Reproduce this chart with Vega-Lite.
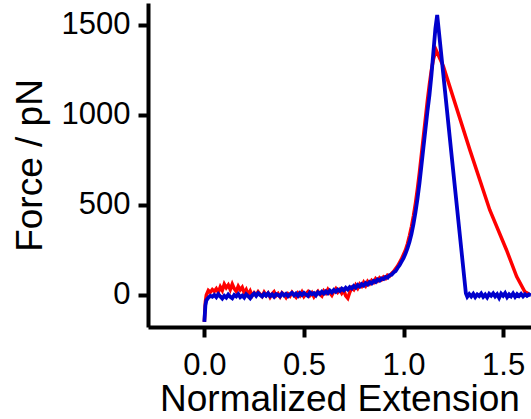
{
  "$schema": "https://vega.github.io/schema/vega-lite/v6.json",
  "autosize": "none",
  "padding": {"left": 148, "top": 3, "right": 0, "bottom": 92},
  "width": 383,
  "height": 324,
  "background": "white",
  "config": {
    "view": {"stroke": null},
    "font": "Liberation Sans",
    "axis": {
      "grid": false,
      "domainColor": "black",
      "domainWidth": 4,
      "tickColor": "black",
      "tickWidth": 4,
      "tickSize": 10,
      "labelFont": "Liberation Sans",
      "labelFontSize": 31,
      "labelColor": "black",
      "titleFont": "Liberation Sans",
      "titleFontSize": 37,
      "titleFontWeight": "normal",
      "titleColor": "black"
    }
  },
  "datasets": {
    "red": [
      {"x":0,"y":-150},{"x":0.005,"y":-40},{"x":0.01,"y":0},{"x":0.02,"y":25},{"x":0.03,"y":15},{"x":0.04,"y":30},{"x":0.05,"y":20},{"x":0.06,"y":35},{"x":0.07,"y":15},{"x":0.08,"y":45},{"x":0.09,"y":25},{"x":0.1,"y":60},{"x":0.11,"y":40},{"x":0.12,"y":55},{"x":0.13,"y":30},{"x":0.14,"y":60},{"x":0.15,"y":35},{"x":0.16,"y":20},{"x":0.17,"y":48},{"x":0.18,"y":28},{"x":0.19,"y":42},{"x":0.2,"y":12},{"x":0.21,"y":30},{"x":0.22,"y":2},{"x":0.23,"y":22},{"x":0.24,"y":-5},{"x":0.25,"y":12},{"x":0.26,"y":0},{"x":0.27,"y":18},{"x":0.28,"y":4},{"x":0.29,"y":-8},{"x":0.3,"y":15},{"x":0.31,"y":-2},{"x":0.32,"y":10},{"x":0.33,"y":-12},{"x":0.34,"y":6},{"x":0.35,"y":18},{"x":0.36,"y":-4},{"x":0.37,"y":8},{"x":0.38,"y":-10},{"x":0.39,"y":12},{"x":0.4,"y":2},{"x":0.41,"y":-14},{"x":0.42,"y":6},{"x":0.43,"y":-6},{"x":0.44,"y":14},{"x":0.45,"y":0},{"x":0.46,"y":-12},{"x":0.47,"y":10},{"x":0.48,"y":-4},{"x":0.49,"y":16},{"x":0.5,"y":-8},{"x":0.51,"y":6},{"x":0.52,"y":18},{"x":0.53,"y":-2},{"x":0.54,"y":12},{"x":0.55,"y":-10},{"x":0.56,"y":8},{"x":0.57,"y":20},{"x":0.58,"y":4},{"x":0.59,"y":-6},{"x":0.6,"y":22},{"x":0.61,"y":10},{"x":0.62,"y":30},{"x":0.63,"y":12},{"x":0.64,"y":-2},{"x":0.65,"y":20},{"x":0.66,"y":35},{"x":0.67,"y":16},{"x":0.68,"y":30},{"x":0.69,"y":10},{"x":0.7,"y":25},{"x":0.71,"y":-5},{"x":0.72,"y":-18},{"x":0.73,"y":15},{"x":0.74,"y":40},{"x":0.75,"y":30},{"x":0.76,"y":55},{"x":0.77,"y":38},{"x":0.78,"y":60},{"x":0.79,"y":48},{"x":0.8,"y":70},{"x":0.81,"y":52},{"x":0.82,"y":75},{"x":0.83,"y":62},{"x":0.84,"y":80},{"x":0.85,"y":70},{"x":0.86,"y":90},{"x":0.87,"y":78},{"x":0.88,"y":95},{"x":0.89,"y":85},{"x":0.9,"y":100},{"x":0.91,"y":92},{"x":0.92,"y":110},{"x":0.93,"y":105},{"x":0.94,"y":120},{"x":0.95,"y":130},{"x":0.96,"y":145},{"x":0.97,"y":160},{"x":0.98,"y":180},{"x":0.99,"y":200},{"x":1.0,"y":225},{"x":1.01,"y":250},{"x":1.02,"y":285},{"x":1.03,"y":330},{"x":1.04,"y":380},{"x":1.05,"y":440},{"x":1.06,"y":510},{"x":1.07,"y":590},{"x":1.08,"y":680},{"x":1.09,"y":780},{"x":1.1,"y":880},{"x":1.11,"y":980},{"x":1.12,"y":1080},{"x":1.13,"y":1170},{"x":1.14,"y":1250},{"x":1.15,"y":1310},{"x":1.163,"y":1361},{"x":1.2,"y":1270},{"x":1.333,"y":806},{"x":1.433,"y":472},{"x":1.517,"y":250},{"x":1.568,"y":102},{"x":1.609,"y":18},{"x":1.63,"y":5}
    ],
    "blue": [
      {"x":0,"y":-150},{"x":0.005,"y":-60},{"x":0.01,"y":-30},{"x":0.02,"y":-15},{"x":0.03,"y":-5},{"x":0.04,"y":-10},{"x":0.05,"y":0},{"x":0.06,"y":-12},{"x":0.07,"y":5},{"x":0.08,"y":-8},{"x":0.09,"y":-20},{"x":0.1,"y":-5},{"x":0.11,"y":-15},{"x":0.12,"y":2},{"x":0.13,"y":-10},{"x":0.14,"y":-18},{"x":0.15,"y":0},{"x":0.16,"y":-8},{"x":0.17,"y":5},{"x":0.18,"y":-12},{"x":0.19,"y":-3},{"x":0.2,"y":-15},{"x":0.21,"y":4},{"x":0.22,"y":-6},{"x":0.23,"y":-18},{"x":0.24,"y":-2},{"x":0.25,"y":8},{"x":0.26,"y":-5},{"x":0.27,"y":10},{"x":0.28,"y":0},{"x":0.29,"y":-8},{"x":0.3,"y":6},{"x":0.31,"y":-4},{"x":0.32,"y":9},{"x":0.33,"y":-6},{"x":0.34,"y":3},{"x":0.35,"y":-10},{"x":0.36,"y":5},{"x":0.37,"y":0},{"x":0.38,"y":-8},{"x":0.39,"y":8},{"x":0.4,"y":-3},{"x":0.41,"y":6},{"x":0.42,"y":-7},{"x":0.43,"y":4},{"x":0.44,"y":12},{"x":0.45,"y":-2},{"x":0.46,"y":8},{"x":0.47,"y":-5},{"x":0.48,"y":10},{"x":0.49,"y":0},{"x":0.5,"y":12},{"x":0.51,"y":2},{"x":0.52,"y":-6},{"x":0.53,"y":14},{"x":0.54,"y":4},{"x":0.55,"y":10},{"x":0.56,"y":-2},{"x":0.57,"y":15},{"x":0.58,"y":6},{"x":0.59,"y":18},{"x":0.6,"y":8},{"x":0.61,"y":20},{"x":0.62,"y":10},{"x":0.63,"y":24},{"x":0.64,"y":14},{"x":0.65,"y":28},{"x":0.66,"y":18},{"x":0.67,"y":30},{"x":0.68,"y":22},{"x":0.69,"y":35},{"x":0.7,"y":26},{"x":0.71,"y":40},{"x":0.72,"y":30},{"x":0.73,"y":44},{"x":0.74,"y":36},{"x":0.75,"y":50},{"x":0.76,"y":40},{"x":0.77,"y":55},{"x":0.78,"y":46},{"x":0.79,"y":60},{"x":0.8,"y":52},{"x":0.81,"y":66},{"x":0.82,"y":58},{"x":0.83,"y":72},{"x":0.84,"y":64},{"x":0.85,"y":78},{"x":0.86,"y":72},{"x":0.87,"y":86},{"x":0.88,"y":80},{"x":0.89,"y":92},{"x":0.9,"y":88},{"x":0.91,"y":100},{"x":0.92,"y":96},{"x":0.93,"y":110},{"x":0.94,"y":112},{"x":0.95,"y":125},{"x":0.96,"y":132},{"x":0.97,"y":150},{"x":0.98,"y":165},{"x":0.99,"y":185},{"x":1.0,"y":205},{"x":1.01,"y":230},{"x":1.02,"y":260},{"x":1.03,"y":295},{"x":1.04,"y":340},{"x":1.05,"y":395},{"x":1.06,"y":460},{"x":1.07,"y":535},{"x":1.08,"y":620},{"x":1.09,"y":720},{"x":1.1,"y":820},{"x":1.11,"y":920},{"x":1.12,"y":1020},{"x":1.13,"y":1110},{"x":1.14,"y":1220},{"x":1.15,"y":1350},{"x":1.16,"y":1480},{"x":1.169,"y":1556},{"x":1.24,"y":790},{"x":1.313,"y":9},{"x":1.32,"y":-10},{"x":1.33,"y":5},{"x":1.34,"y":-8},{"x":1.35,"y":6},{"x":1.36,"y":-12},{"x":1.37,"y":3},{"x":1.38,"y":-6},{"x":1.39,"y":8},{"x":1.4,"y":-10},{"x":1.41,"y":2},{"x":1.42,"y":-14},{"x":1.43,"y":6},{"x":1.44,"y":-4},{"x":1.45,"y":9},{"x":1.46,"y":-8},{"x":1.47,"y":4},{"x":1.48,"y":-16},{"x":1.49,"y":7},{"x":1.5,"y":-5},{"x":1.51,"y":10},{"x":1.52,"y":-12},{"x":1.53,"y":3},{"x":1.54,"y":-8},{"x":1.55,"y":8},{"x":1.56,"y":-10},{"x":1.57,"y":5},{"x":1.58,"y":-6},{"x":1.59,"y":6},{"x":1.6,"y":-8},{"x":1.61,"y":4},{"x":1.62,"y":-5},{"x":1.63,"y":3},{"x":1.64,"y":-2}
    ]
  },
  "encoding": {
    "x": {
      "field": "x", "type": "quantitative",
      "scale": {"domain": [-0.283, 1.64], "nice": false, "zero": false},
      "axis": {"values": [0, 0.5, 1, 1.5], "format": ".1f", "title": "Normalized Extension", "labelPadding": 13, "titleBaseline": "alphabetic", "titleY": 83, "tickWidth": 4, "tickSize": 10, "labelFlush": false}
    },
    "y": {
      "field": "y", "type": "quantitative",
      "scale": {"domain": [-178, 1622], "nice": false, "zero": false},
      "axis": {"values": [0, 500, 1000, 1500], "format": "d", "title": "Force / pN", "labelPadding": 8, "titlePadding": 12, "tickWidth": 4, "tickSize": 10}
    }
  },
  "layer": [
    {"data": {"name": "red"}, "mark": {"type": "line", "color": "#ff0000", "strokeWidth": 3.5, "clip": true}},
    {"data": {"name": "blue"}, "mark": {"type": "line", "color": "#0000cc", "strokeWidth": 3.8, "clip": true}}
  ]
}
